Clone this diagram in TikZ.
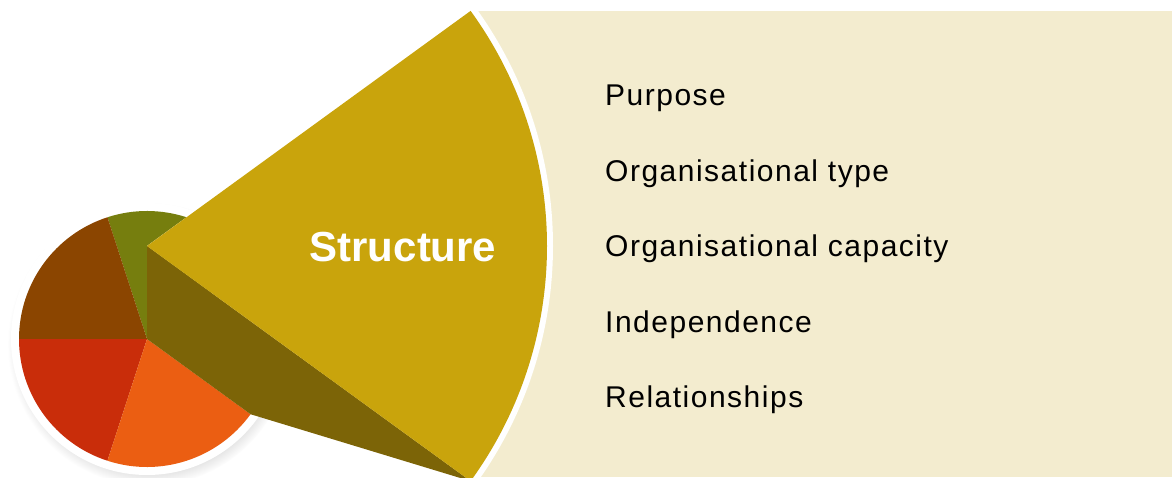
\documentclass[tikz,border=0pt]{standalone}
\usepackage{fontspec}
\setmainfont{Liberation Sans}
\newfontfamily\listfont{Liberation Sans}[LetterSpace=5]
\usetikzlibrary{positioning, shadows}

\definecolor{pieGreen}{RGB}{118,126,14}
\definecolor{pieBrown}{RGB}{139,69,0}
\definecolor{pieRed}{RGB}{201,45,10}
\definecolor{pieOrange}{RGB}{235,94,18}
\definecolor{sliceGold}{RGB}{201,164,12}
\definecolor{sliceDark}{RGB}{124,100,7}
\definecolor{listBack}{RGB}{243,236,207}

\begin{document}
\begin{tikzpicture}[x=1pt, y=1pt]
			\tikzstyle{ListItem} = [rectangle, inner sep=0pt, text height=21pt, text depth=7pt, text=black, font=\listfont\fontsize{30}{34}\selectfont]
			\tikzstyle{SliceTitle} = [rectangle, inner sep=0pt, text=white, font=\fontsize{42}{50}\selectfont\bfseries]
			\tikzstyle{Ring} = [fill=white, circular drop shadow={shadow xshift=2pt, shadow yshift=-5pt, shadow scale=1.04, opacity=0.35}]
			
			\useasboundingbox (0,0) rectangle (1172,477);
			
			\coordinate (pieCenter) at (147,138);
			\coordinate (sliceApex) at (147,231);
			\coordinate (bigBottom) at ([shift={(-36:400)}]sliceApex);
			
			% list background
			\fill[listBack] (470,0) rectangle (1172,466);
			
			% small pie
			\fill[Ring] (pieCenter) circle (136);
			\fill[pieGreen] (pieCenter) -- ++(36:128) arc (36:108:128) -- cycle;
			\fill[pieBrown] (pieCenter) -- ++(108:128) arc (108:180:128) -- cycle;
			\fill[pieRed] (pieCenter) -- ++(180:128) arc (180:252:128) -- cycle;
			\fill[pieOrange] (pieCenter) -- ++(252:128) arc (252:324:128) -- cycle;
			
			% exploded slice
			\fill[white] (sliceApex) -- ++(36:406) arc (36:-36:406) -- cycle;
			\fill[sliceDark] (sliceApex) -- (pieCenter) -- ++(-36:128) -- (bigBottom) -- cycle;
			\fill[sliceGold] (sliceApex) -- ++(36:400) arc (36:-36:400) -- cycle;
			
			\node (structure) [SliceTitle] at (403,229.5) {Structure};
			
			\node (purpose) [ListItem, anchor=base west] at (605,371) {Purpose};
			\node (orgType) [ListItem, below = 47pt of purpose.south west, anchor=north west] {Organisational type};
			\node (orgCapacity) [ListItem, below = 47pt of orgType.south west, anchor=north west] {Organisational capacity};
			\node (independence) [ListItem, below = 47pt of orgCapacity.south west, anchor=north west] {Independence};
			\node (relationships) [ListItem, below = 47pt of independence.south west, anchor=north west] {Relationships};
		\end{tikzpicture}
\end{document}
